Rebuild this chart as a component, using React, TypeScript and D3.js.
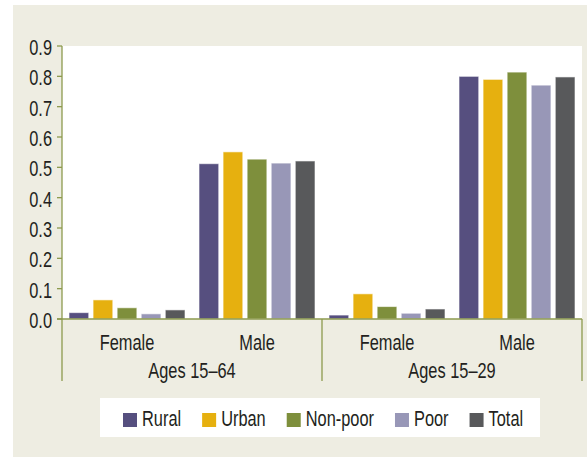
import React, { useEffect, useRef } from "react";
import * as d3 from "d3";

const ageGroups = ["Ages 15\u201364", "Ages 15\u201329"];
const sexes = ["Female", "Male"];
const seriesNames = ["Rural", "Urban", "Non-poor", "Poor", "Total"];
const seriesColors = ["#564f7f", "#e6b00f", "#7e8f3c", "#9897b7", "#58595b"];
// values per series, in order: 15-64 Female, 15-64 Male, 15-29 Female, 15-29 Male
const rural = [0.021, 0.512, 0.013, 0.8];
const urban = [0.063, 0.551, 0.083, 0.79];
const nonPoor = [0.037, 0.527, 0.041, 0.814];
const poor = [0.017, 0.514, 0.019, 0.771];
const total = [0.03, 0.521, 0.033, 0.798];
const yTicks = [0, 0.1, 0.2, 0.3, 0.4, 0.5, 0.6, 0.7, 0.8, 0.9];

const FONT = "'Liberation Sans', Arial, sans-serif";
const FS = 22;
const SX = 0.745; // squeeze text horizontally to imitate a condensed face
const AXIS = "#8d9a4e";
const TEXT = "#231f20";

type Sel = d3.Selection<SVGSVGElement, unknown, null, undefined>;

// condensed text helper
function label(svg: Sel, x: number, y: number, str: string, anchor = "start", dy = "0") {
  const t = svg
    .append("g")
    .attr("transform", `translate(${x},${y}) scale(${SX},1)`)
    .append("text")
    .attr("dy", dy)
    .attr("text-anchor", anchor)
    .attr("font-family", FONT)
    .attr("font-size", FS)
    .attr("fill", TEXT)
    .text(str);
  return (t.node() as SVGTextElement).getComputedTextLength() * SX;
}

const App: React.FC = () => {
  const svgRef = useRef<SVGSVGElement | null>(null);

  useEffect(() => {
    if (!svgRef.current) return;
    const svg = d3.select(svgRef.current) as Sel;
    svg.selectAll("*").remove();

    const W = 587;
    const H = 457;
    const left = 62;
    const right = 582;
    const top = 46;
    const bottom = 319;

    const allSeries = [rural, urban, nonPoor, poor, total];
    const cats = ageGroups.flatMap((a) => sexes.map((s) => `${a}|${s}`));

    const x0 = d3.scaleBand<string>().domain(cats).range([left, right]);
    const x1 = d3
      .scaleBand<string>()
      .domain(seriesNames)
      .range([7, x0.bandwidth() - 7])
      .paddingInner(0.18);
    const y = d3.scaleLinear().domain([0, 0.9]).range([bottom, top]);

    // background panel
    svg.append("rect").attr("x", 13).attr("y", 5).attr("width", W - 13).attr("height", H - 5).attr("fill", "#eeede2");
    svg.append("rect").attr("x", left).attr("y", top).attr("width", right - left).attr("height", bottom - top).attr("fill", "#fff");

    // bars
    cats.forEach((c, ci) => {
      const g = svg.append("g").attr("transform", `translate(${x0(c)},0)`);
      g.selectAll("rect")
        .data(seriesNames)
        .enter()
        .append("rect")
        .attr("x", (d) => x1(d)!)
        .attr("y", (d, i) => y(allSeries[i][ci]))
        .attr("width", x1.bandwidth())
        .attr("height", (d, i) => bottom - y(allSeries[i][ci]))
        .attr("fill", (d, i) => seriesColors[i])
        .attr("stroke", "#ffffff")
        .attr("stroke-opacity", 0.6)
        .attr("stroke-width", 1);
    });

    // y axis
    svg.append("line").attr("x1", left).attr("x2", left).attr("y1", top).attr("y2", 381).attr("stroke", AXIS).attr("stroke-width", 1.3);
    yTicks.forEach((d) => {
      svg.append("line").attr("x1", left - 5).attr("x2", left).attr("y1", y(d)).attr("y2", y(d)).attr("stroke", AXIS).attr("stroke-width", 1.3);
      label(svg, left - 10, y(d) + 1, d3.format(".1f")(d), "end", "0.36em");
    });

    // baseline and group separators
    svg.append("line").attr("x1", left - 5).attr("x2", right).attr("y1", bottom).attr("y2", bottom).attr("stroke", AXIS).attr("stroke-width", 1.3);
    ageGroups.forEach((a) => {
      const start = x0(`${a}|${sexes[0]}`)!;
      const end = x0(`${a}|${sexes[sexes.length - 1]}`)! + x0.bandwidth();
      svg.append("line").attr("x1", end).attr("x2", end).attr("y1", bottom).attr("y2", 381).attr("stroke", AXIS).attr("stroke-width", 1.3);
      label(svg, (start + end) / 2, 378, a, "middle");
    });
    cats.forEach((c) => {
      label(svg, x0(c)! + x0.bandwidth() / 2, 350, c.split("|")[1], "middle");
    });

    // legend
    svg.append("rect").attr("x", 100).attr("y", 398).attr("width", 440).attr("height", 39).attr("fill", "#fff");
    let lx = 123;
    seriesNames.forEach((name, i) => {
      svg.append("rect").attr("x", lx).attr("y", 413).attr("width", 14).attr("height", 14).attr("fill", seriesColors[i]);
      const w = label(svg, lx + 19, 426, name);
      lx = lx + 19 + w + 21;
    });
  }, []);

  return (
    <div style={{ position: "absolute", left: 0, top: 0 }}>
      <svg ref={svgRef} width={587} height={457} style={{ display: "block" }} />
    </div>
  );
};

export default App;
